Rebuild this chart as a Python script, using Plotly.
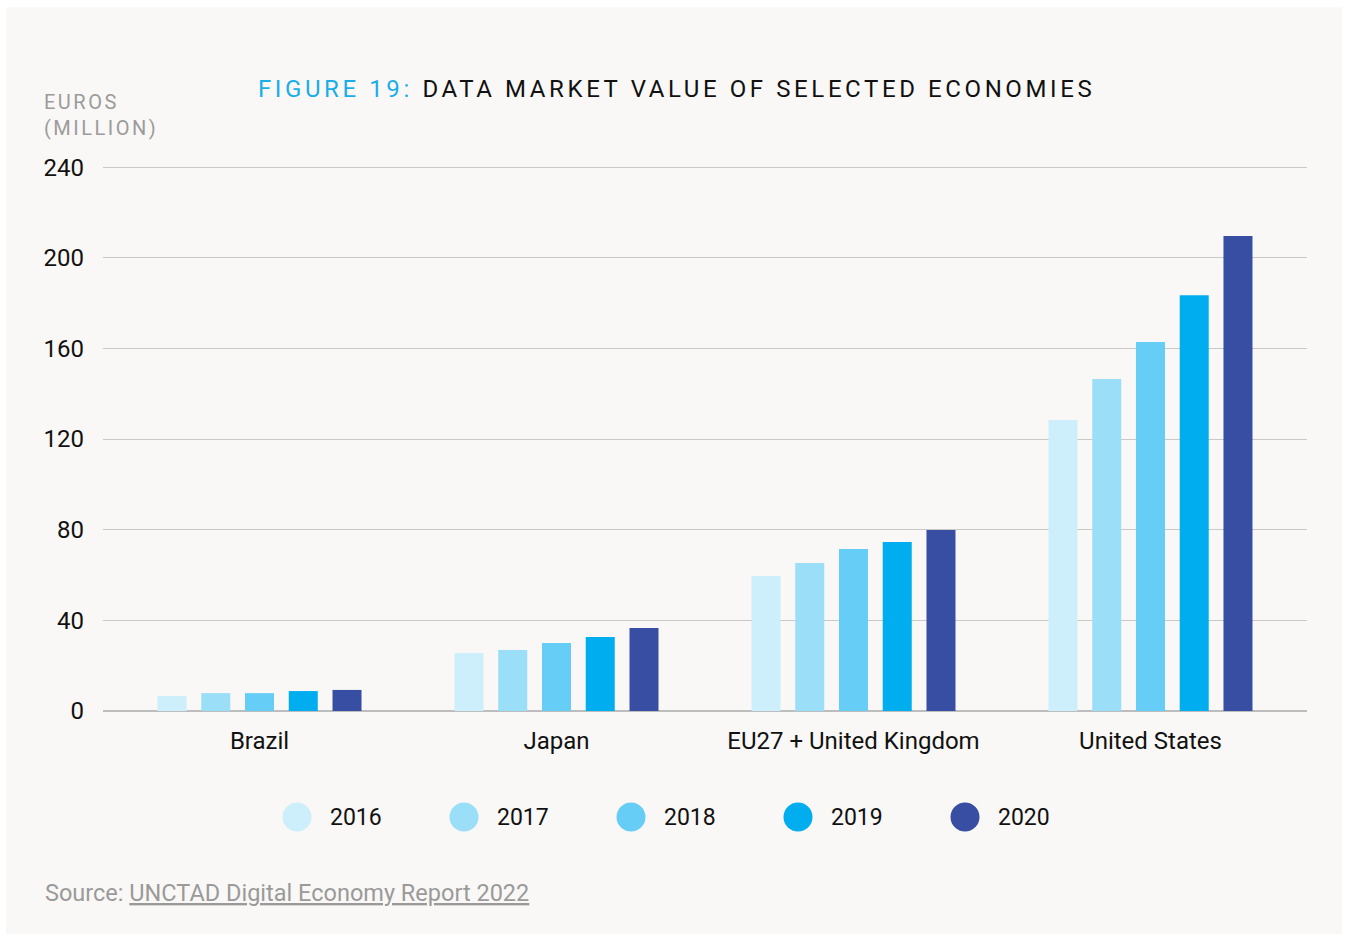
import plotly.graph_objects as go

categories = ["Brazil", "Japan", "EU27 + United Kingdom", "United States"]
years = ["2016", "2017", "2018", "2019", "2020"]
values = {
    "2016": [6.6, 25.6, 59.6, 128.4],
    "2017": [7.9, 26.9, 65.3, 146.5],
    "2018": [7.9, 30.0, 71.5, 162.8],
    "2019": [8.8, 32.6, 74.6, 183.5],
    "2020": [9.3, 36.6, 79.9, 209.6],
}
colors = ["#cdeefb", "#9bdef8", "#66cef6", "#00aeef", "#374ea2"]
y_ticks = [0, 40, 80, 120, 160, 200, 240]

W, H = 1346, 936
Y_TOP = 240.5
L, R, B = 103, 39, 225
PH = 544 * Y_TOP / 240
T = H - B - PH
PW = W - L - R


def px(x):
    return (x - L) / PW


def py(y):
    return (H - B - y) / PH


fig = go.Figure()
for yr, col in zip(years, colors):
    fig.add_trace(go.Bar(x=categories, y=values[yr], name=yr, marker_color=col,
                         marker_line_width=0, showlegend=False))

FONT = "Roboto"
shapes = [
    dict(type="rect", xref="paper", yref="paper", x0=px(6), x1=px(1342), y0=py(934), y1=py(7),
         fillcolor="#f9f8f6", line_width=0, layer="below"),
]
annotations = [
    dict(text="<span style='color:#1aaee9'>FIGURE 19:</span> DATA MARKET VALUE OF SELECTED ECONOMIES",
         xref="paper", yref="paper", x=px(676.5), y=py(89), xanchor="center", yanchor="middle",
         showarrow=False, font=dict(family=FONT, size=24, color="#111111")),
    dict(text="EUROS<br>(MILLION)", xref="paper", yref="paper", x=px(42), y=py(88),
         xanchor="left", yanchor="top", align="left", showarrow=False,
         font=dict(family=FONT, size=20, color="#9b9b9b")),
    dict(text="Source: <u>UNCTAD Digital Economy Report 2022</u>", xref="paper", yref="paper",
         x=px(43), y=py(893), xanchor="left", yanchor="middle", showarrow=False,
         font=dict(family=FONT, size=23.5, color="#9a9a9a")),
]

# legend drawn as circles + labels
r = 14.5
for i, (yr, col) in enumerate(zip(years, colors)):
    cx = 297 + 167 * i
    cy = 817
    shapes.append(dict(type="circle", xref="paper", yref="paper",
                       x0=px(cx - r), x1=px(cx + r), y0=py(cy + r), y1=py(cy - r),
                       fillcolor=col, line_width=0))
    annotations.append(dict(text=yr, xref="paper", yref="paper", x=px(cx + 31), y=py(cy + 1),
                            xanchor="left", yanchor="middle", showarrow=False,
                            font=dict(family=FONT, size=23, color="#111111")))

fig.update_layout(
    width=W, height=H,
    margin=dict(l=L, r=R, t=T, b=B, pad=0),
    paper_bgcolor="white", plot_bgcolor="rgba(0,0,0,0)",
    barmode="group", bargap=0.2635, bargroupgap=0.337,
    font=dict(family=FONT, size=24, color="#111111"),
    shapes=shapes, annotations=annotations, showlegend=False,
)
fig.update_xaxes(range=[-0.527, 3.527], showgrid=False, showline=False, zeroline=False,
                 ticks="", ticklabelstandoff=13, tickfont=dict(size=24, color="#111111"))
fig.update_yaxes(range=[0, Y_TOP], tickvals=y_ticks, showgrid=True, gridcolor="#c9c9c9",
                 gridwidth=1, zeroline=True, zerolinecolor="#bdbdbd", zerolinewidth=2,
                 showline=False, ticks="", ticklabelstandoff=18,
                 tickfont=dict(size=24, color="#111111"))

post = """
document.body.style.margin = '0';
var gd = document.getElementById('{plot_id}');
gd.querySelectorAll('.annotation-text').forEach(function(t){
  var s = t.textContent;
  if (s.indexOf('FIGURE') === 0) t.style.letterSpacing = '3.6px';
  if (s.indexOf('EUROS') === 0) t.style.letterSpacing = '2.5px';
});
"""
fig.write_html("out.html", post_script=post, config={"staticPlot": True})
